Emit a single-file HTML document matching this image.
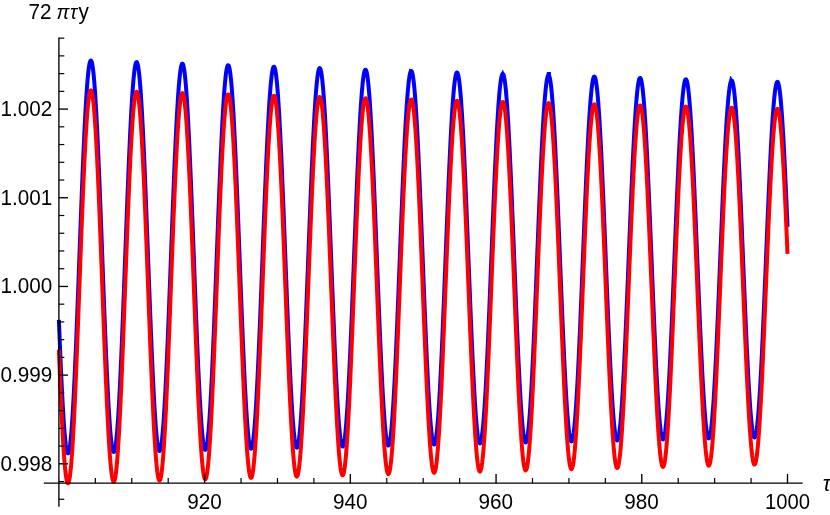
<!DOCTYPE html><html><head><meta charset="utf-8"><title>plot</title><style>html,body{margin:0;padding:0;background:#fff}body{width:830px;height:515px;overflow:hidden}svg{display:block;position:absolute;left:0;top:0;will-change:transform}text{font-family:"Liberation Sans",sans-serif;font-size:21px;fill:#000}</style></head><body>
<svg width="830" height="515" viewBox="0 0 830 515">
<rect width="830" height="515" fill="#fff"/>
<path d="M58.90,319.81 L59.26,329.06 L59.63,338.13 L59.99,346.99 L60.36,355.62 L60.72,364.00 L61.09,372.12 L61.45,379.94 L61.81,387.45 L62.18,394.64 L62.54,401.48 L62.91,407.96 L63.27,414.06 L63.64,419.76 L64.00,425.05 L64.36,429.92 L64.73,434.36 L65.09,438.36 L65.46,441.89 L65.82,444.97 L66.19,447.57 L66.55,449.69 L66.91,451.34 L67.28,452.49 L67.64,453.15 L68.01,453.33 L68.37,453.01 L68.74,452.20 L69.10,450.90 L69.46,449.11 L69.83,446.84 L70.19,444.10 L70.56,440.89 L70.92,437.22 L71.29,433.09 L71.65,428.53 L72.01,423.54 L72.38,418.13 L72.74,412.31 L73.11,406.11 L73.47,399.53 L73.84,392.60 L74.20,385.33 L74.56,377.74 L74.93,369.84 L75.29,361.66 L75.66,353.22 L76.02,344.54 L76.39,335.65 L76.75,326.55 L77.11,317.28 L77.48,307.86 L77.84,298.31 L78.21,288.66 L78.57,278.93 L78.94,269.15 L79.30,259.33 L79.67,249.51 L80.03,239.71 L80.39,229.95 L80.76,220.26 L81.12,210.66 L81.49,201.17 L81.85,191.83 L82.22,182.65 L82.58,173.66 L82.94,164.87 L83.31,156.31 L83.67,148.01 L84.04,139.98 L84.40,132.24 L84.77,124.81 L85.13,117.71 L85.49,110.96 L85.86,104.58 L86.22,98.58 L86.59,92.97 L86.95,87.77 L87.32,83.00 L87.68,78.66 L88.04,74.76 L88.41,71.32 L88.77,68.34 L89.14,65.84 L89.50,63.81 L89.87,62.27 L90.23,61.21 L90.59,60.64 L90.96,60.56 L91.32,60.97 L91.69,61.87 L92.05,63.25 L92.42,65.12 L92.78,67.47 L93.14,70.29 L93.51,73.58 L93.87,77.32 L94.24,81.51 L94.60,86.14 L94.97,91.20 L95.33,96.67 L95.69,102.53 L96.06,108.79 L96.42,115.41 L96.79,122.38 L97.15,129.69 L97.52,137.32 L97.88,145.24 L98.24,153.44 L98.61,161.90 L98.97,170.59 L99.34,179.50 L99.70,188.60 L100.07,197.87 L100.43,207.29 L100.79,216.83 L101.16,226.46 L101.52,236.17 L101.89,245.94 L102.25,255.72 L102.62,265.51 L102.98,275.28 L103.34,285.00 L103.71,294.64 L104.07,304.19 L104.44,313.62 L104.80,322.91 L105.17,332.03 L105.53,340.96 L105.89,349.68 L106.26,358.17 L106.62,366.40 L106.99,374.35 L107.35,382.02 L107.72,389.36 L108.08,396.38 L108.44,403.04 L108.81,409.34 L109.17,415.26 L109.54,420.78 L109.90,425.88 L110.27,430.57 L110.63,434.82 L110.99,438.62 L111.36,441.97 L111.72,444.86 L112.09,447.27 L112.45,449.21 L112.82,450.66 L113.18,451.63 L113.54,452.12 L113.91,452.11 L114.27,451.62 L114.64,450.64 L115.00,449.17 L115.37,447.23 L115.73,444.81 L116.10,441.91 L116.46,438.56 L116.82,434.75 L117.19,430.50 L117.55,425.81 L117.92,420.70 L118.28,415.18 L118.65,409.27 L119.01,402.97 L119.37,396.31 L119.74,389.30 L120.10,381.97 L120.47,374.32 L120.83,366.37 L121.20,358.15 L121.56,349.68 L121.92,340.98 L122.29,332.07 L122.65,322.98 L123.02,313.71 L123.38,304.31 L123.75,294.79 L124.11,285.17 L124.47,275.49 L124.84,265.76 L125.20,256.00 L125.57,246.26 L125.93,236.53 L126.30,226.86 L126.66,217.27 L127.02,207.78 L127.39,198.40 L127.75,189.18 L128.12,180.13 L128.48,171.27 L128.85,162.62 L129.21,154.21 L129.57,146.06 L129.94,138.19 L130.30,130.61 L130.67,123.35 L131.03,116.42 L131.40,109.85 L131.76,103.64 L132.12,97.82 L132.49,92.40 L132.85,87.38 L133.22,82.80 L133.58,78.64 L133.95,74.94 L134.31,71.69 L134.67,68.90 L135.04,66.58 L135.40,64.74 L135.77,63.38 L136.13,62.50 L136.50,62.11 L136.86,62.21 L137.22,62.79 L137.59,63.86 L137.95,65.41 L138.32,67.43 L138.68,69.94 L139.05,72.90 L139.41,76.33 L139.77,80.21 L140.14,84.53 L140.50,89.28 L140.87,94.45 L141.23,100.03 L141.60,106.00 L141.96,112.34 L142.32,119.04 L142.69,126.09 L143.05,133.46 L143.42,141.15 L143.78,149.12 L144.15,157.36 L144.51,165.84 L144.87,174.56 L145.24,183.47 L145.60,192.57 L145.97,201.84 L146.33,211.23 L146.70,220.74 L147.06,230.34 L147.42,240.01 L147.79,249.71 L148.15,259.44 L148.52,269.15 L148.88,278.84 L149.25,288.47 L149.61,298.01 L149.97,307.46 L150.34,316.77 L150.70,325.94 L151.07,334.93 L151.43,343.73 L151.80,352.31 L152.16,360.65 L152.53,368.73 L152.89,376.52 L153.25,384.02 L153.62,391.20 L153.98,398.05 L154.35,404.54 L154.71,410.66 L155.08,416.39 L155.44,421.73 L155.80,426.65 L156.17,431.15 L156.53,435.21 L156.90,438.83 L157.26,441.99 L157.63,444.68 L157.99,446.91 L158.35,448.66 L158.72,449.94 L159.08,450.73 L159.45,451.03 L159.81,450.85 L160.18,450.19 L160.54,449.04 L160.90,447.41 L161.27,445.31 L161.63,442.74 L162.00,439.70 L162.36,436.20 L162.73,432.26 L163.09,427.88 L163.45,423.07 L163.82,417.85 L164.18,412.23 L164.55,406.21 L164.91,399.83 L165.28,393.09 L165.64,386.01 L166.00,378.61 L166.37,370.90 L166.73,362.91 L167.10,354.66 L167.46,346.16 L167.83,337.44 L168.19,328.53 L168.55,319.43 L168.92,310.18 L169.28,300.79 L169.65,291.30 L170.01,281.72 L170.38,272.09 L170.74,262.41 L171.10,252.72 L171.47,243.05 L171.83,233.41 L172.20,223.83 L172.56,214.34 L172.93,204.95 L173.29,195.69 L173.65,186.59 L174.02,177.66 L174.38,168.94 L174.75,160.43 L175.11,152.17 L175.48,144.17 L175.84,136.46 L176.20,129.04 L176.57,121.95 L176.93,115.20 L177.30,108.80 L177.66,102.77 L178.03,97.13 L178.39,91.89 L178.75,87.06 L179.12,82.66 L179.48,78.69 L179.85,75.17 L180.21,72.11 L180.58,69.51 L180.94,67.38 L181.30,65.72 L181.67,64.54 L182.03,63.84 L182.40,63.63 L182.76,63.90 L183.13,64.65 L183.49,65.88 L183.85,67.59 L184.22,69.78 L184.58,72.43 L184.95,75.54 L185.31,79.11 L185.68,83.12 L186.04,87.57 L186.41,92.44 L186.77,97.72 L187.13,103.40 L187.50,109.46 L187.86,115.89 L188.23,122.67 L188.59,129.79 L188.96,137.23 L189.32,144.96 L189.68,152.97 L190.05,161.25 L190.41,169.76 L190.78,178.49 L191.14,187.41 L191.51,196.51 L191.87,205.76 L192.23,215.14 L192.60,224.62 L192.96,234.18 L193.33,243.79 L193.69,253.44 L194.06,263.10 L194.42,272.74 L194.78,282.34 L195.15,291.88 L195.51,301.33 L195.88,310.66 L196.24,319.86 L196.61,328.91 L196.97,337.77 L197.33,346.43 L197.70,354.87 L198.06,363.06 L198.43,370.99 L198.79,378.63 L199.16,385.96 L199.52,392.97 L199.88,399.65 L200.25,405.96 L200.61,411.90 L200.98,417.46 L201.34,422.61 L201.71,427.35 L202.07,431.66 L202.43,435.54 L202.80,438.97 L203.16,441.94 L203.53,444.45 L203.89,446.50 L204.26,448.07 L204.62,449.16 L204.98,449.77 L205.35,449.90 L205.71,449.55 L206.08,448.72 L206.44,447.41 L206.81,445.62 L207.17,443.36 L207.53,440.64 L207.90,437.45 L208.26,433.82 L208.63,429.75 L208.99,425.24 L209.36,420.32 L209.72,414.99 L210.08,409.26 L210.45,403.16 L210.81,396.69 L211.18,389.87 L211.54,382.72 L211.91,375.26 L212.27,367.50 L212.63,359.47 L213.00,351.18 L213.36,342.66 L213.73,333.93 L214.09,325.00 L214.46,315.91 L214.82,306.67 L215.18,297.31 L215.55,287.85 L215.91,278.31 L216.28,268.73 L216.64,259.11 L217.01,249.49 L217.37,239.89 L217.73,230.34 L218.10,220.85 L218.46,211.46 L218.83,202.18 L219.19,193.03 L219.56,184.06 L219.92,175.26 L220.28,166.67 L220.65,158.31 L221.01,150.19 L221.38,142.35 L221.74,134.79 L222.11,127.54 L222.47,120.61 L222.84,114.03 L223.20,107.81 L223.56,101.96 L223.93,96.50 L224.29,91.44 L224.66,86.79 L225.02,82.58 L225.39,78.80 L225.75,75.46 L226.11,72.58 L226.48,70.17 L226.84,68.22 L227.21,66.74 L227.57,65.74 L227.94,65.22 L228.30,65.18 L228.66,65.62 L229.03,66.54 L229.39,67.94 L229.76,69.81 L230.12,72.14 L230.49,74.94 L230.85,78.20 L231.21,81.90 L231.58,86.04 L231.94,90.61 L232.31,95.60 L232.67,100.99 L233.04,106.77 L233.40,112.92 L233.76,119.43 L234.13,126.29 L234.49,133.48 L234.86,140.97 L235.22,148.76 L235.59,156.81 L235.95,165.12 L236.31,173.65 L236.68,182.39 L237.04,191.32 L237.41,200.42 L237.77,209.65 L238.14,219.00 L238.50,228.45 L238.86,237.97 L239.23,247.53 L239.59,257.12 L239.96,266.71 L240.32,276.27 L240.69,285.79 L241.05,295.23 L241.41,304.58 L241.78,313.81 L242.14,322.89 L242.51,331.81 L242.87,340.55 L243.24,349.07 L243.60,357.36 L243.96,365.41 L244.33,373.18 L244.69,380.66 L245.06,387.83 L245.42,394.68 L245.79,401.18 L246.15,407.32 L246.51,413.08 L246.88,418.46 L247.24,423.43 L247.61,427.99 L247.97,432.11 L248.34,435.81 L248.70,439.05 L249.06,441.84 L249.43,444.17 L249.79,446.03 L250.16,447.42 L250.52,448.33 L250.89,448.77 L251.25,448.72 L251.61,448.20 L251.98,447.20 L252.34,445.73 L252.71,443.78 L253.07,441.37 L253.44,438.50 L253.80,435.18 L254.16,431.42 L254.53,427.21 L254.89,422.59 L255.26,417.55 L255.62,412.11 L255.99,406.29 L256.35,400.09 L256.71,393.54 L257.08,386.65 L257.44,379.43 L257.81,371.91 L258.17,364.11 L258.54,356.04 L258.90,347.72 L259.26,339.18 L259.63,330.44 L259.99,321.51 L260.36,312.42 L260.72,303.20 L261.09,293.86 L261.45,284.44 L261.82,274.94 L262.18,265.41 L262.54,255.85 L262.91,246.30 L263.27,236.78 L263.64,227.31 L264.00,217.92 L264.37,208.63 L264.73,199.46 L265.09,190.44 L265.46,181.58 L265.82,172.91 L266.19,164.46 L266.55,156.24 L266.92,148.28 L267.28,140.59 L267.64,133.19 L268.01,126.10 L268.37,119.34 L268.74,112.93 L269.10,106.88 L269.47,101.21 L269.83,95.92 L270.19,91.05 L270.56,86.58 L270.92,82.55 L271.29,78.96 L271.65,75.81 L272.02,73.11 L272.38,70.88 L272.74,69.11 L273.11,67.82 L273.47,66.99 L273.84,66.65 L274.20,66.78 L274.57,67.39 L274.93,68.47 L275.29,70.03 L275.66,72.05 L276.02,74.54 L276.39,77.49 L276.75,80.88 L277.12,84.72 L277.48,88.98 L277.84,93.67 L278.21,98.77 L278.57,104.26 L278.94,110.14 L279.30,116.38 L279.67,122.98 L280.03,129.91 L280.39,137.16 L280.76,144.71 L281.12,152.54 L281.49,160.63 L281.85,168.96 L282.22,177.52 L282.58,186.27 L282.94,195.20 L283.31,204.29 L283.67,213.50 L284.04,222.83 L284.40,232.24 L284.77,241.71 L285.13,251.22 L285.49,260.75 L285.86,270.27 L286.22,279.75 L286.59,289.18 L286.95,298.53 L287.32,307.77 L287.68,316.89 L288.04,325.86 L288.41,334.65 L288.77,343.26 L289.14,351.64 L289.50,359.79 L289.87,367.69 L290.23,375.31 L290.59,382.63 L290.96,389.64 L291.32,396.31 L291.69,402.64 L292.05,408.61 L292.42,414.20 L292.78,419.39 L293.14,424.19 L293.51,428.56 L293.87,432.50 L294.24,436.01 L294.60,439.07 L294.97,441.68 L295.33,443.82 L295.69,445.50 L296.06,446.71 L296.42,447.45 L296.79,447.71 L297.15,447.50 L297.52,446.81 L297.88,445.65 L298.25,444.01 L298.61,441.92 L298.97,439.36 L299.34,436.34 L299.70,432.88 L300.07,428.99 L300.43,424.66 L300.80,419.92 L301.16,414.77 L301.52,409.23 L301.89,403.31 L302.25,397.02 L302.62,390.39 L302.98,383.43 L303.35,376.15 L303.71,368.58 L304.07,360.73 L304.44,352.62 L304.80,344.28 L305.17,335.72 L305.53,326.97 L305.90,318.04 L306.26,308.96 L306.62,299.76 L306.99,290.45 L307.35,281.06 L307.72,271.61 L308.08,262.13 L308.45,252.64 L308.81,243.16 L309.17,233.72 L309.54,224.34 L309.90,215.05 L310.27,205.86 L310.63,196.80 L311.00,187.89 L311.36,179.16 L311.72,170.63 L312.09,162.31 L312.45,154.24 L312.82,146.42 L313.18,138.88 L313.55,131.64 L313.91,124.72 L314.27,118.13 L314.64,111.89 L315.00,106.01 L315.37,100.51 L315.73,95.41 L316.10,90.71 L316.46,86.43 L316.82,82.58 L317.19,79.17 L317.55,76.20 L317.92,73.69 L318.28,71.64 L318.65,70.05 L319.01,68.94 L319.37,68.29 L319.74,68.12 L320.10,68.42 L320.47,69.19 L320.83,70.44 L321.20,72.15 L321.56,74.33 L321.92,76.97 L322.29,80.05 L322.65,83.58 L323.02,87.55 L323.38,91.94 L323.75,96.74 L324.11,101.95 L324.47,107.54 L324.84,113.51 L325.20,119.84 L325.57,126.52 L325.93,133.52 L326.30,140.83 L326.66,148.43 L327.02,156.30 L327.39,164.43 L327.75,172.79 L328.12,181.36 L328.48,190.12 L328.85,199.05 L329.21,208.12 L329.57,217.32 L329.94,226.61 L330.30,235.99 L330.67,245.41 L331.03,254.87 L331.40,264.33 L331.76,273.78 L332.12,283.18 L332.49,292.52 L332.85,301.77 L333.22,310.91 L333.58,319.91 L333.95,328.76 L334.31,337.43 L334.68,345.90 L335.04,354.15 L335.40,362.16 L335.77,369.90 L336.13,377.36 L336.50,384.53 L336.86,391.37 L337.23,397.88 L337.59,404.04 L337.95,409.84 L338.32,415.25 L338.68,420.27 L339.05,424.88 L339.41,429.07 L339.78,432.83 L340.14,436.16 L340.50,439.04 L340.87,441.46 L341.23,443.43 L341.60,444.93 L341.96,445.96 L342.33,446.52 L342.69,446.61 L343.05,446.23 L343.42,445.37 L343.78,444.05 L344.15,442.26 L344.51,440.01 L344.88,437.31 L345.24,434.15 L345.60,430.56 L345.97,426.53 L346.33,422.09 L346.70,417.23 L347.06,411.97 L347.43,406.33 L347.79,400.32 L348.15,393.95 L348.52,387.24 L348.88,380.21 L349.25,372.87 L349.61,365.25 L349.98,357.36 L350.34,349.22 L350.70,340.85 L351.07,332.28 L351.43,323.52 L351.80,314.60 L352.16,305.53 L352.53,296.35 L352.89,287.07 L353.25,277.72 L353.62,268.32 L353.98,258.90 L354.35,249.47 L354.71,240.07 L355.08,230.71 L355.44,221.42 L355.80,212.22 L356.17,203.14 L356.53,194.19 L356.90,185.41 L357.26,176.80 L357.63,168.40 L357.99,160.23 L358.35,152.29 L358.72,144.63 L359.08,137.24 L359.45,130.16 L359.81,123.40 L360.18,116.98 L360.54,110.91 L360.90,105.20 L361.27,99.88 L361.63,94.96 L362.00,90.44 L362.36,86.34 L362.73,82.67 L363.09,79.44 L363.45,76.66 L363.82,74.32 L364.18,72.45 L364.55,71.04 L364.91,70.10 L365.28,69.63 L365.64,69.63 L366.00,70.10 L366.37,71.03 L366.73,72.44 L367.10,74.31 L367.46,76.63 L367.83,79.41 L368.19,82.64 L368.55,86.30 L368.92,90.40 L369.28,94.91 L369.65,99.82 L370.01,105.14 L370.38,110.83 L370.74,116.89 L371.11,123.30 L371.47,130.05 L371.83,137.12 L372.20,144.48 L372.56,152.13 L372.93,160.05 L373.29,168.21 L373.66,176.59 L374.02,185.17 L374.38,193.94 L374.75,202.86 L375.11,211.92 L375.48,221.09 L375.84,230.36 L376.21,239.69 L376.57,249.07 L376.93,258.46 L377.30,267.86 L377.66,277.23 L378.03,286.55 L378.39,295.80 L378.76,304.95 L379.12,313.98 L379.48,322.87 L379.85,331.60 L380.21,340.15 L380.58,348.48 L380.94,356.59 L381.31,364.46 L381.67,372.05 L382.03,379.36 L382.40,386.36 L382.76,393.04 L383.13,399.39 L383.49,405.38 L383.86,411.00 L384.22,416.23 L384.58,421.07 L384.95,425.50 L385.31,429.52 L385.68,433.10 L386.04,436.24 L386.41,438.94 L386.77,441.19 L387.13,442.97 L387.50,444.30 L387.86,445.15 L388.23,445.54 L388.59,445.46 L388.96,444.91 L389.32,443.90 L389.68,442.42 L390.05,440.48 L390.41,438.08 L390.78,435.23 L391.14,431.94 L391.51,428.21 L391.87,424.06 L392.23,419.49 L392.60,414.52 L392.96,409.16 L393.33,403.42 L393.69,397.32 L394.06,390.87 L394.42,384.09 L394.78,377.00 L395.15,369.61 L395.51,361.93 L395.88,354.00 L396.24,345.84 L396.61,337.45 L396.97,328.86 L397.33,320.10 L397.70,311.18 L398.06,302.13 L398.43,292.98 L398.79,283.73 L399.16,274.42 L399.52,265.07 L399.88,255.71 L400.25,246.35 L400.61,237.02 L400.98,227.75 L401.34,218.55 L401.71,209.45 L402.07,200.47 L402.43,191.64 L402.80,182.98 L403.16,174.50 L403.53,166.23 L403.89,158.20 L404.26,150.41 L404.62,142.89 L404.98,135.66 L405.35,128.74 L405.71,122.15 L406.08,115.89 L406.44,109.99 L406.81,104.46 L407.17,99.31 L407.54,94.56 L407.90,90.22 L408.26,86.31 L408.63,82.82 L408.99,79.76 L409.36,77.16 L409.72,75.01 L410.09,73.31 L410.45,72.08 L410.81,71.31 L411.18,71.01 L411.54,71.18 L411.91,71.81 L412.27,72.91 L412.64,74.47 L413.00,76.49 L413.36,78.97 L413.73,81.89 L414.09,85.25 L414.46,89.05 L414.82,93.26 L415.19,97.89 L415.55,102.92 L415.91,108.33 L416.28,114.12 L416.64,120.27 L417.01,126.76 L417.37,133.58 L417.74,140.71 L418.10,148.13 L418.46,155.83 L418.83,163.78 L419.19,171.96 L419.56,180.36 L419.92,188.96 L420.29,197.72 L420.65,206.64 L421.01,215.68 L421.38,224.83 L421.74,234.06 L422.11,243.35 L422.47,252.67 L422.84,262.01 L423.20,271.34 L423.56,280.63 L423.93,289.87 L424.29,299.02 L424.66,308.07 L425.02,317.00 L425.39,325.78 L425.75,334.38 L426.11,342.80 L426.48,351.00 L426.84,358.97 L427.21,366.69 L427.57,374.13 L427.94,381.29 L428.30,388.13 L428.66,394.65 L429.03,400.83 L429.39,406.64 L429.76,412.09 L430.12,417.15 L430.49,421.82 L430.85,426.07 L431.21,429.90 L431.58,433.31 L431.94,436.27 L432.31,438.79 L432.67,440.86 L433.04,442.47 L433.40,443.61 L433.76,444.30 L434.13,444.52 L434.49,444.27 L434.86,443.56 L435.22,442.38 L435.59,440.75 L435.95,438.65 L436.31,436.11 L436.68,433.12 L437.04,429.69 L437.41,425.84 L437.77,421.56 L438.14,416.88 L438.50,411.80 L438.86,406.34 L439.23,400.51 L439.59,394.32 L439.96,387.80 L440.32,380.95 L440.69,373.79 L441.05,366.34 L441.41,358.63 L441.78,350.66 L442.14,342.47 L442.51,334.06 L442.87,325.47 L443.24,316.70 L443.60,307.80 L443.97,298.76 L444.33,289.63 L444.69,280.42 L445.06,271.16 L445.42,261.86 L445.79,252.56 L446.15,243.27 L446.52,234.02 L446.88,224.83 L447.24,215.73 L447.61,206.73 L447.97,197.86 L448.34,189.14 L448.70,180.60 L449.07,172.25 L449.43,164.12 L449.79,156.22 L450.16,148.58 L450.52,141.22 L450.89,134.15 L451.25,127.38 L451.62,120.95 L451.98,114.86 L452.34,109.13 L452.71,103.77 L453.07,98.80 L453.44,94.23 L453.80,90.07 L454.17,86.32 L454.53,83.01 L454.89,80.14 L455.26,77.71 L455.62,75.74 L455.99,74.22 L456.35,73.16 L456.72,72.57 L457.08,72.43 L457.44,72.77 L457.81,73.56 L458.17,74.82 L458.54,76.54 L458.90,78.71 L459.27,81.33 L459.63,84.39 L459.99,87.88 L460.36,91.80 L460.72,96.14 L461.09,100.88 L461.45,106.02 L461.82,111.53 L462.18,117.41 L462.54,123.64 L462.91,130.21 L463.27,137.10 L463.64,144.29 L464.00,151.76 L464.37,159.50 L464.73,167.49 L465.09,175.70 L465.46,184.11 L465.82,192.72 L466.19,201.48 L466.55,210.38 L466.92,219.41 L467.28,228.53 L467.64,237.72 L468.01,246.97 L468.37,256.24 L468.74,265.51 L469.10,274.77 L469.47,283.98 L469.83,293.13 L470.19,302.19 L470.56,311.14 L470.92,319.96 L471.29,328.62 L471.65,337.10 L472.02,345.39 L472.38,353.46 L472.74,361.29 L473.11,368.86 L473.47,376.15 L473.84,383.15 L474.20,389.83 L474.57,396.19 L474.93,402.20 L475.29,407.85 L475.66,413.12 L476.02,418.01 L476.39,422.50 L476.75,426.57 L477.12,430.23 L477.48,433.45 L477.84,436.24 L478.21,438.58 L478.57,440.47 L478.94,441.91 L479.30,442.88 L479.67,443.39 L480.03,443.45 L480.40,443.03 L480.76,442.16 L481.12,440.83 L481.49,439.04 L481.85,436.80 L482.22,434.11 L482.58,430.98 L482.95,427.42 L483.31,423.44 L483.67,419.05 L484.04,414.26 L484.40,409.07 L484.77,403.51 L485.13,397.59 L485.50,391.32 L485.86,384.72 L486.22,377.80 L486.59,370.58 L486.95,363.09 L487.32,355.33 L487.68,347.33 L488.05,339.11 L488.41,330.69 L488.77,322.09 L489.14,313.33 L489.50,304.44 L489.87,295.43 L490.23,286.33 L490.60,277.15 L490.96,267.94 L491.32,258.70 L491.69,249.46 L492.05,240.24 L492.42,231.07 L492.78,221.97 L493.15,212.96 L493.51,204.06 L493.87,195.30 L494.24,186.70 L494.60,178.28 L494.97,170.07 L495.33,162.07 L495.70,154.31 L496.06,146.82 L496.42,139.60 L496.79,132.69 L497.15,126.08 L497.52,119.81 L497.88,113.89 L498.25,108.33 L498.61,103.14 L498.97,98.34 L499.34,93.95 L499.70,89.96 L500.07,86.40 L500.43,83.27 L500.80,80.57 L501.16,78.32 L501.52,76.52 L501.89,75.18 L502.25,74.29 L502.62,73.86 L502.98,73.90 L503.35,74.40 L503.71,75.35 L504.07,76.77 L504.44,78.63 L504.80,80.95 L505.17,83.71 L505.53,86.91 L505.90,90.54 L506.26,94.58 L506.62,99.04 L506.99,103.89 L507.35,109.13 L507.72,114.74 L508.08,120.71 L508.45,127.02 L508.81,133.66 L509.17,140.61 L509.54,147.86 L509.90,155.38 L510.27,163.16 L510.63,171.18 L511.00,179.41 L511.36,187.84 L511.72,196.45 L512.09,205.21 L512.45,214.10 L512.82,223.10 L513.18,232.19 L513.55,241.34 L513.91,250.54 L514.27,259.75 L514.64,268.96 L515.00,278.15 L515.37,287.28 L515.73,296.34 L516.10,305.30 L516.46,314.15 L516.83,322.86 L517.19,331.40 L517.55,339.76 L517.92,347.92 L518.28,355.85 L518.65,363.54 L519.01,370.96 L519.38,378.10 L519.74,384.95 L520.10,391.47 L520.47,397.66 L520.83,403.51 L521.20,408.99 L521.56,414.09 L521.93,418.80 L522.29,423.12 L522.65,427.02 L523.02,430.49 L523.38,433.54 L523.75,436.15 L524.11,438.32 L524.48,440.03 L524.84,441.29 L525.20,442.10 L525.57,442.44 L525.93,442.33 L526.30,441.75 L526.66,440.72 L527.03,439.23 L527.39,437.29 L527.75,434.91 L528.12,432.08 L528.48,428.82 L528.85,425.13 L529.21,421.03 L529.58,416.52 L529.94,411.61 L530.30,406.33 L530.67,400.67 L531.03,394.66 L531.40,388.31 L531.76,381.64 L532.13,374.66 L532.49,367.39 L532.85,359.84 L533.22,352.05 L533.58,344.02 L533.95,335.78 L534.31,327.35 L534.68,318.74 L535.04,309.99 L535.40,301.11 L535.77,292.12 L536.13,283.05 L536.50,273.92 L536.86,264.75 L537.23,255.57 L537.59,246.39 L537.95,237.25 L538.32,228.16 L538.68,219.15 L539.05,210.24 L539.41,201.45 L539.78,192.80 L540.14,184.32 L540.50,176.02 L540.87,167.93 L541.23,160.07 L541.60,152.46 L541.96,145.11 L542.33,138.05 L542.69,131.29 L543.05,124.84 L543.42,118.74 L543.78,112.98 L544.15,107.59 L544.51,102.57 L544.88,97.95 L545.24,93.73 L545.60,89.92 L545.97,86.53 L546.33,83.57 L546.70,81.05 L547.06,78.98 L547.43,77.35 L547.79,76.18 L548.15,75.46 L548.52,75.20 L548.88,75.40 L549.25,76.06 L549.61,77.18 L549.98,78.74 L550.34,80.76 L550.70,83.22 L551.07,86.12 L551.43,89.45 L551.80,93.21 L552.16,97.37 L552.53,101.94 L552.89,106.90 L553.26,112.24 L553.62,117.95 L553.98,124.00 L554.35,130.39 L554.71,137.11 L555.08,144.12 L555.44,151.42 L555.81,158.99 L556.17,166.80 L556.53,174.85 L556.90,183.10 L557.26,191.54 L557.63,200.15 L557.99,208.90 L558.36,217.78 L558.72,226.75 L559.08,235.81 L559.45,244.92 L559.81,254.07 L560.18,263.22 L560.54,272.37 L560.91,281.48 L561.27,290.53 L561.63,299.50 L562.00,308.36 L562.36,317.10 L562.73,325.70 L563.09,334.12 L563.46,342.36 L563.82,350.39 L564.18,358.18 L564.55,365.73 L564.91,373.00 L565.28,379.99 L565.64,386.68 L566.01,393.05 L566.37,399.08 L566.73,404.75 L567.10,410.06 L567.46,415.00 L567.83,419.54 L568.19,423.67 L568.56,427.40 L568.92,430.70 L569.28,433.57 L569.65,436.01 L570.01,438.00 L570.38,439.54 L570.74,440.63 L571.11,441.27 L571.47,441.44 L571.83,441.17 L572.20,440.43 L572.56,439.24 L572.93,437.60 L573.29,435.51 L573.66,432.98 L574.02,430.02 L574.38,426.62 L574.75,422.81 L575.11,418.59 L575.48,413.96 L575.84,408.95 L576.21,403.57 L576.57,397.82 L576.93,391.73 L577.30,385.30 L577.66,378.56 L578.03,371.52 L578.39,364.19 L578.76,356.61 L579.12,348.78 L579.48,340.72 L579.85,332.47 L580.21,324.02 L580.58,315.42 L580.94,306.67 L581.31,297.81 L581.67,288.85 L582.03,279.81 L582.40,270.72 L582.76,261.61 L583.13,252.48 L583.49,243.38 L583.86,234.31 L584.22,225.30 L584.58,216.38 L584.95,207.57 L585.31,198.88 L585.68,190.35 L586.04,181.99 L586.41,173.82 L586.77,165.86 L587.13,158.14 L587.50,150.66 L587.86,143.46 L588.23,136.55 L588.59,129.95 L588.96,123.66 L589.32,117.72 L589.69,112.13 L590.05,106.90 L590.41,102.06 L590.78,97.61 L591.14,93.56 L591.51,89.92 L591.87,86.71 L592.24,83.93 L592.60,81.58 L592.96,79.68 L593.33,78.23 L593.69,77.23 L594.06,76.68 L594.42,76.59 L594.79,76.95 L595.15,77.77 L595.51,79.04 L595.88,80.76 L596.24,82.92 L596.61,85.52 L596.97,88.56 L597.34,92.02 L597.70,95.90 L598.06,100.18 L598.43,104.86 L598.79,109.93 L599.16,115.37 L599.52,121.16 L599.89,127.30 L600.25,133.77 L600.61,140.54 L600.98,147.62 L601.34,154.97 L601.71,162.58 L602.07,170.43 L602.44,178.50 L602.80,186.77 L603.16,195.21 L603.53,203.82 L603.89,212.56 L604.26,221.42 L604.62,230.37 L604.99,239.39 L605.35,248.46 L605.71,257.55 L606.08,266.65 L606.44,275.72 L606.81,284.76 L607.17,293.72 L607.54,302.60 L607.90,311.37 L608.26,320.00 L608.63,328.48 L608.99,336.79 L609.36,344.90 L609.72,352.79 L610.09,360.45 L610.45,367.85 L610.81,374.98 L611.18,381.82 L611.54,388.35 L611.91,394.56 L612.27,400.42 L612.64,405.93 L613.00,411.08 L613.36,415.84 L613.73,420.21 L614.09,424.17 L614.46,427.72 L614.82,430.85 L615.19,433.55 L615.55,435.81 L615.91,437.63 L616.28,439.00 L616.64,439.92 L617.01,440.39 L617.37,440.40 L617.74,439.96 L618.10,439.07 L618.46,437.72 L618.83,435.93 L619.19,433.70 L619.56,431.03 L619.92,427.93 L620.29,424.41 L620.65,420.47 L621.01,416.13 L621.38,411.40 L621.74,406.28 L622.11,400.80 L622.47,394.96 L622.84,388.79 L623.20,382.29 L623.56,375.48 L623.93,368.38 L624.29,361.01 L624.66,353.38 L625.02,345.52 L625.39,337.44 L625.75,329.17 L626.12,320.72 L626.48,312.12 L626.84,303.38 L627.21,294.54 L627.57,285.61 L627.94,276.61 L628.30,267.56 L628.67,258.50 L629.03,249.44 L629.39,240.40 L629.76,231.41 L630.12,222.49 L630.49,213.67 L630.85,204.95 L631.22,196.37 L631.58,187.95 L631.94,179.71 L632.31,171.67 L632.67,163.84 L633.04,156.26 L633.40,148.93 L633.77,141.87 L634.13,135.11 L634.49,128.66 L634.86,122.54 L635.22,116.76 L635.59,111.33 L635.95,106.28 L636.32,101.60 L636.68,97.32 L637.04,93.45 L637.41,89.99 L637.77,86.95 L638.14,84.34 L638.50,82.17 L638.87,80.44 L639.23,79.15 L639.59,78.32 L639.96,77.94 L640.32,78.01 L640.69,78.53 L641.05,79.51 L641.42,80.93 L641.78,82.80 L642.14,85.11 L642.51,87.85 L642.87,91.02 L643.24,94.61 L643.60,98.61 L643.97,103.01 L644.33,107.80 L644.69,112.96 L645.06,118.50 L645.42,124.38 L645.79,130.60 L646.15,137.14 L646.52,143.98 L646.88,151.11 L647.24,158.51 L647.61,166.15 L647.97,174.03 L648.34,182.13 L648.70,190.41 L649.07,198.86 L649.43,207.46 L649.79,216.19 L650.16,225.03 L650.52,233.95 L650.89,242.93 L651.25,251.96 L651.62,260.99 L651.98,270.03 L652.34,279.03 L652.71,287.98 L653.07,296.86 L653.44,305.65 L653.80,314.31 L654.17,322.84 L654.53,331.21 L654.89,339.39 L655.26,347.37 L655.62,355.13 L655.99,362.65 L656.35,369.91 L656.72,376.90 L657.08,383.58 L657.44,389.96 L657.81,396.00 L658.17,401.71 L658.54,407.05 L658.90,412.03 L659.27,416.62 L659.63,420.82 L659.99,424.61 L660.36,427.99 L660.72,430.94 L661.09,433.47 L661.45,435.56 L661.82,437.20 L662.18,438.41 L662.55,439.16 L662.91,439.46 L663.27,439.31 L663.64,438.71 L664.00,437.66 L664.37,436.17 L664.73,434.23 L665.10,431.85 L665.46,429.04 L665.82,425.81 L666.19,422.16 L666.55,418.11 L666.92,413.65 L667.28,408.81 L667.65,403.60 L668.01,398.02 L668.37,392.10 L668.74,385.84 L669.10,379.27 L669.47,372.40 L669.83,365.25 L670.20,357.83 L670.56,350.17 L670.92,342.28 L671.29,334.18 L671.65,325.89 L672.02,317.44 L672.38,308.84 L672.75,300.12 L673.11,291.30 L673.47,282.40 L673.84,273.44 L674.20,264.44 L674.57,255.44 L674.93,246.44 L675.30,237.47 L675.66,228.56 L676.02,219.73 L676.39,211.00 L676.75,202.39 L677.12,193.92 L677.48,185.61 L677.85,177.49 L678.21,169.57 L678.57,161.88 L678.94,154.43 L679.30,147.25 L679.67,140.34 L680.03,133.73 L680.40,127.44 L680.76,121.48 L681.12,115.86 L681.49,110.60 L681.85,105.71 L682.22,101.20 L682.58,97.09 L682.95,93.39 L683.31,90.10 L683.67,87.24 L684.04,84.80 L684.40,82.80 L684.77,81.24 L685.13,80.12 L685.50,79.46 L685.86,79.24 L686.22,79.47 L686.59,80.15 L686.95,81.28 L687.32,82.86 L687.68,84.87 L688.05,87.32 L688.41,90.20 L688.77,93.50 L689.14,97.21 L689.50,101.33 L689.87,105.85 L690.23,110.74 L690.60,116.01 L690.96,121.63 L691.32,127.60 L691.69,133.89 L692.05,140.50 L692.42,147.40 L692.78,154.59 L693.15,162.03 L693.51,169.71 L693.87,177.62 L694.24,185.73 L694.60,194.03 L694.97,202.48 L695.33,211.08 L695.70,219.79 L696.06,228.61 L696.42,237.49 L696.79,246.44 L697.15,255.41 L697.52,264.39 L697.88,273.36 L698.25,282.29 L698.61,291.16 L698.98,299.95 L699.34,308.64 L699.70,317.20 L700.07,325.62 L700.43,333.87 L700.80,341.93 L701.16,349.79 L701.53,357.42 L701.89,364.80 L702.25,371.92 L702.62,378.75 L702.98,385.28 L703.35,391.50 L703.71,397.39 L704.08,402.93 L704.44,408.11 L704.80,412.92 L705.17,417.34 L705.53,421.37 L705.90,424.99 L706.26,428.20 L706.63,430.98 L706.99,433.33 L707.35,435.25 L707.72,436.73 L708.08,437.76 L708.45,438.35 L708.81,438.49 L709.18,438.18 L709.54,437.42 L709.90,436.22 L710.27,434.57 L710.63,432.49 L711.00,429.97 L711.36,427.03 L711.73,423.67 L712.09,419.89 L712.45,415.72 L712.82,411.15 L713.18,406.21 L713.55,400.90 L713.91,395.23 L714.28,389.23 L714.64,382.90 L715.00,376.26 L715.37,369.33 L715.73,362.12 L716.10,354.66 L716.46,346.96 L716.83,339.05 L717.19,330.93 L717.55,322.63 L717.92,314.18 L718.28,305.59 L718.65,296.89 L719.01,288.09 L719.38,279.22 L719.74,270.30 L720.10,261.36 L720.47,252.41 L720.83,243.48 L721.20,234.59 L721.56,225.76 L721.93,217.02 L722.29,208.38 L722.65,199.87 L723.02,191.51 L723.38,183.32 L723.75,175.32 L724.11,167.53 L724.48,159.98 L724.84,152.67 L725.20,145.62 L725.57,138.87 L725.93,132.41 L726.30,126.27 L726.66,120.47 L727.03,115.01 L727.39,109.92 L727.75,105.20 L728.12,100.86 L728.48,96.92 L728.85,93.39 L729.21,90.27 L729.58,87.58 L729.94,85.31 L730.30,83.48 L730.67,82.09 L731.03,81.14 L731.40,80.64 L731.76,80.58 L732.13,80.98 L732.49,81.81 L732.85,83.09 L733.22,84.82 L733.58,86.97 L733.95,89.56 L734.31,92.57 L734.68,96.00 L735.04,99.84 L735.41,104.07 L735.77,108.70 L736.13,113.70 L736.50,119.06 L736.86,124.77 L737.23,130.82 L737.59,137.19 L737.96,143.86 L738.32,150.82 L738.68,158.05 L739.05,165.54 L739.41,173.26 L739.78,181.19 L740.14,189.32 L740.51,197.62 L740.87,206.07 L741.23,214.66 L741.60,223.36 L741.96,232.15 L742.33,241.00 L742.69,249.90 L743.06,258.82 L743.42,267.74 L743.78,276.64 L744.15,285.50 L744.51,294.29 L744.88,302.99 L745.24,311.58 L745.61,320.04 L745.97,328.35 L746.33,336.48 L746.70,344.42 L747.06,352.15 L747.43,359.64 L747.79,366.88 L748.16,373.85 L748.52,380.54 L748.88,386.92 L749.25,392.98 L749.61,398.71 L749.98,404.09 L750.34,409.11 L750.71,413.75 L751.07,418.00 L751.43,421.86 L751.80,425.31 L752.16,428.35 L752.53,430.96 L752.89,433.14 L753.26,434.89 L753.62,436.20 L753.98,437.07 L754.35,437.49 L754.71,437.47 L755.08,437.00 L755.44,436.09 L755.81,434.73 L756.17,432.94 L756.53,430.72 L756.90,428.06 L757.26,424.99 L757.63,421.50 L757.99,417.60 L758.36,413.32 L758.72,408.64 L759.08,403.59 L759.45,398.19 L759.81,392.44 L760.18,386.35 L760.54,379.95 L760.91,373.25 L761.27,366.26 L761.63,359.01 L762.00,351.50 L762.36,343.77 L762.73,335.83 L763.09,327.70 L763.46,319.40 L763.82,310.95 L764.18,302.37 L764.55,293.68 L764.91,284.91 L765.28,276.08 L765.64,267.21 L766.01,258.31 L766.37,249.42 L766.73,240.56 L767.10,231.75 L767.46,223.00 L767.83,214.35 L768.19,205.81 L768.56,197.41 L768.92,189.16 L769.28,181.08 L769.65,173.21 L770.01,165.55 L770.38,158.13 L770.74,150.96 L771.11,144.06 L771.47,137.45 L771.84,131.15 L772.20,125.17 L772.56,119.52 L772.93,114.23 L773.29,109.30 L773.66,104.74 L774.02,100.57 L774.39,96.80 L774.75,93.44 L775.11,90.49 L775.48,87.97 L775.84,85.87 L776.21,84.21 L776.57,82.98 L776.94,82.20 L777.30,81.86 L777.66,81.97 L778.03,82.52 L778.39,83.51 L778.76,84.94 L779.12,86.81 L779.49,89.10 L779.85,91.83 L780.21,94.97 L780.58,98.53 L780.94,102.48 L781.31,106.83 L781.67,111.56 L782.04,116.66 L782.40,122.12 L782.76,127.91 L783.13,134.04 L783.49,140.48 L783.86,147.22 L784.22,154.23 L784.59,161.51 L784.95,169.04 L785.31,176.78 L785.68,184.74 L786.04,192.88 L786.41,201.19 L786.77,209.64 L787.14,218.21 L787.50,226.89" fill="none" stroke="#0000ff" stroke-width="4" stroke-linejoin="round"/>
<path d="M408.8,72.5 L409.2,68.7 L410.0,68.8 L413.2,71.2 L413,73.5Z M501,74 L502.35,69.9 L503.1,69.9 L504.4,74Z M546.8,75.5 L546.8,72 L550.9,72 L550.9,75.5Z M729.3,80 L730.2,76.0 L730.9,76.0 L731.9,78.6 L733.5,80Z" fill="#0000ff"/>
<path d="M58.90,349.77 L59.26,359.01 L59.63,368.08 L59.99,376.93 L60.36,385.57 L60.72,393.95 L61.09,402.06 L61.45,409.88 L61.81,417.40 L62.18,424.58 L62.54,431.42 L62.91,437.89 L63.27,443.99 L63.64,449.69 L64.00,454.98 L64.36,459.85 L64.73,464.29 L65.09,468.28 L65.46,471.82 L65.82,474.89 L66.19,477.49 L66.55,479.61 L66.91,481.25 L67.28,482.41 L67.64,483.07 L68.01,483.24 L68.37,482.92 L68.74,482.11 L69.10,480.80 L69.46,479.02 L69.83,476.75 L70.19,474.00 L70.56,470.79 L70.92,467.12 L71.29,462.99 L71.65,458.43 L72.01,453.43 L72.38,448.02 L72.74,442.20 L73.11,436.00 L73.47,429.42 L73.84,422.49 L74.20,415.21 L74.56,407.62 L74.93,399.72 L75.29,391.54 L75.66,383.10 L76.02,374.42 L76.39,365.52 L76.75,356.42 L77.11,347.15 L77.48,337.73 L77.84,328.18 L78.21,318.53 L78.57,308.80 L78.94,299.01 L79.30,289.19 L79.67,279.37 L80.03,269.57 L80.39,259.80 L80.76,250.11 L81.12,240.51 L81.49,231.03 L81.85,221.68 L82.22,212.50 L82.58,203.50 L82.94,194.71 L83.31,186.16 L83.67,177.85 L84.04,169.82 L84.40,162.08 L84.77,154.65 L85.13,147.55 L85.49,140.80 L85.86,134.41 L86.22,128.41 L86.59,122.80 L86.95,117.60 L87.32,112.82 L87.68,108.48 L88.04,104.58 L88.41,101.14 L88.77,98.16 L89.14,95.66 L89.50,93.63 L89.87,92.08 L90.23,91.02 L90.59,90.45 L90.96,90.37 L91.32,90.77 L91.69,91.67 L92.05,93.06 L92.42,94.92 L92.78,97.27 L93.14,100.09 L93.51,103.38 L93.87,107.12 L94.24,111.31 L94.60,115.94 L94.97,120.99 L95.33,126.46 L95.69,132.32 L96.06,138.57 L96.42,145.19 L96.79,152.17 L97.15,159.47 L97.52,167.10 L97.88,175.02 L98.24,183.22 L98.61,191.67 L98.97,200.37 L99.34,209.27 L99.70,218.37 L100.07,227.64 L100.43,237.05 L100.79,246.59 L101.16,256.23 L101.52,265.94 L101.89,275.70 L102.25,285.48 L102.62,295.27 L102.98,305.03 L103.34,314.75 L103.71,324.39 L104.07,333.94 L104.44,343.37 L104.80,352.66 L105.17,361.77 L105.53,370.70 L105.89,379.42 L106.26,387.91 L106.62,396.14 L106.99,404.09 L107.35,411.75 L107.72,419.10 L108.08,426.11 L108.44,432.77 L108.81,439.07 L109.17,444.98 L109.54,450.50 L109.90,455.61 L110.27,460.29 L110.63,464.54 L110.99,468.34 L111.36,471.69 L111.72,474.57 L112.09,476.98 L112.45,478.92 L112.82,480.37 L113.18,481.34 L113.54,481.82 L113.91,481.82 L114.27,481.32 L114.64,480.34 L115.00,478.87 L115.37,476.93 L115.73,474.50 L116.10,471.61 L116.46,468.25 L116.82,464.44 L117.19,460.19 L117.55,455.50 L117.92,450.39 L118.28,444.87 L118.65,438.95 L119.01,432.65 L119.37,425.99 L119.74,418.98 L120.10,411.64 L120.47,403.99 L120.83,396.05 L121.20,387.83 L121.56,379.36 L121.92,370.65 L122.29,361.74 L122.65,352.64 L123.02,343.38 L123.38,333.97 L123.75,324.45 L124.11,314.83 L124.47,305.15 L124.84,295.41 L125.20,285.66 L125.57,275.91 L125.93,266.18 L126.30,256.51 L126.66,246.92 L127.02,237.42 L127.39,228.05 L127.75,218.82 L128.12,209.77 L128.48,200.91 L128.85,192.26 L129.21,183.85 L129.57,175.69 L129.94,167.82 L130.30,160.24 L130.67,152.98 L131.03,146.05 L131.40,139.48 L131.76,133.27 L132.12,127.44 L132.49,122.02 L132.85,117.01 L133.22,112.42 L133.58,108.26 L133.95,104.55 L134.31,101.30 L134.67,98.51 L135.04,96.19 L135.40,94.35 L135.77,92.99 L136.13,92.11 L136.50,91.71 L136.86,91.81 L137.22,92.39 L137.59,93.45 L137.95,95.00 L138.32,97.03 L138.68,99.53 L139.05,102.50 L139.41,105.92 L139.77,109.80 L140.14,114.12 L140.50,118.87 L140.87,124.04 L141.23,129.61 L141.60,135.58 L141.96,141.92 L142.32,148.62 L142.69,155.67 L143.05,163.04 L143.42,170.72 L143.78,178.69 L144.15,186.93 L144.51,195.41 L144.87,204.12 L145.24,213.04 L145.60,222.14 L145.97,231.40 L146.33,240.79 L146.70,250.30 L147.06,259.90 L147.42,269.56 L147.79,279.27 L148.15,288.99 L148.52,298.70 L148.88,308.39 L149.25,318.01 L149.61,327.56 L149.97,337.00 L150.34,346.32 L150.70,355.48 L151.07,364.47 L151.43,373.27 L151.80,381.84 L152.16,390.18 L152.53,398.26 L152.89,406.06 L153.25,413.55 L153.62,420.73 L153.98,427.57 L154.35,434.06 L154.71,440.18 L155.08,445.91 L155.44,451.25 L155.80,456.17 L156.17,460.66 L156.53,464.72 L156.90,468.34 L157.26,471.50 L157.63,474.19 L157.99,476.42 L158.35,478.17 L158.72,479.44 L159.08,480.23 L159.45,480.54 L159.81,480.35 L160.18,479.69 L160.54,478.54 L160.90,476.91 L161.27,474.81 L161.63,472.23 L162.00,469.19 L162.36,465.69 L162.73,461.75 L163.09,457.37 L163.45,452.56 L163.82,447.33 L164.18,441.71 L164.55,435.69 L164.91,429.31 L165.28,422.57 L165.64,415.48 L166.00,408.08 L166.37,400.37 L166.73,392.38 L167.10,384.13 L167.46,375.63 L167.83,366.91 L168.19,357.99 L168.55,348.89 L168.92,339.64 L169.28,330.25 L169.65,320.76 L170.01,311.18 L170.38,301.54 L170.74,291.86 L171.10,282.17 L171.47,272.50 L171.83,262.86 L172.20,253.28 L172.56,243.78 L172.93,234.39 L173.29,225.13 L173.65,216.03 L174.02,207.10 L174.38,198.37 L174.75,189.87 L175.11,181.60 L175.48,173.60 L175.84,165.89 L176.20,158.47 L176.57,151.38 L176.93,144.62 L177.30,138.22 L177.66,132.19 L178.03,126.55 L178.39,121.30 L178.75,116.48 L179.12,112.07 L179.48,108.11 L179.85,104.58 L180.21,101.52 L180.58,98.92 L180.94,96.78 L181.30,95.12 L181.67,93.94 L182.03,93.24 L182.40,93.03 L182.76,93.29 L183.13,94.04 L183.49,95.28 L183.85,96.98 L184.22,99.17 L184.58,101.82 L184.95,104.93 L185.31,108.50 L185.68,112.51 L186.04,116.95 L186.41,121.82 L186.77,127.10 L187.13,132.78 L187.50,138.84 L187.86,145.26 L188.23,152.05 L188.59,159.16 L188.96,166.60 L189.32,174.33 L189.68,182.34 L190.05,190.61 L190.41,199.12 L190.78,207.85 L191.14,216.78 L191.51,225.87 L191.87,235.12 L192.23,244.49 L192.60,253.97 L192.96,263.53 L193.33,273.15 L193.69,282.79 L194.06,292.45 L194.42,302.09 L194.78,311.69 L195.15,321.22 L195.51,330.67 L195.88,340.00 L196.24,349.20 L196.61,358.25 L196.97,367.11 L197.33,375.77 L197.70,384.20 L198.06,392.39 L198.43,400.32 L198.79,407.96 L199.16,415.29 L199.52,422.30 L199.88,428.97 L200.25,435.28 L200.61,441.22 L200.98,446.78 L201.34,451.93 L201.71,456.67 L202.07,460.98 L202.43,464.85 L202.80,468.28 L203.16,471.25 L203.53,473.76 L203.89,475.80 L204.26,477.37 L204.62,478.46 L204.98,479.07 L205.35,479.20 L205.71,478.85 L206.08,478.01 L206.44,476.70 L206.81,474.91 L207.17,472.65 L207.53,469.93 L207.90,466.74 L208.26,463.11 L208.63,459.03 L208.99,454.53 L209.36,449.60 L209.72,444.27 L210.08,438.54 L210.45,432.43 L210.81,425.96 L211.18,419.14 L211.54,411.99 L211.91,404.53 L212.27,396.77 L212.63,388.74 L213.00,380.45 L213.36,371.93 L213.73,363.19 L214.09,354.27 L214.46,345.17 L214.82,335.93 L215.18,326.57 L215.55,317.11 L215.91,307.57 L216.28,297.98 L216.64,288.36 L217.01,278.74 L217.37,269.14 L217.73,259.58 L218.10,250.09 L218.46,240.70 L218.83,231.42 L219.19,222.27 L219.56,213.29 L219.92,204.50 L220.28,195.91 L220.65,187.54 L221.01,179.43 L221.38,171.58 L221.74,164.02 L222.11,156.77 L222.47,149.84 L222.84,143.26 L223.20,137.03 L223.56,131.18 L223.93,125.71 L224.29,120.65 L224.66,116.01 L225.02,111.79 L225.39,108.01 L225.75,104.67 L226.11,101.79 L226.48,99.37 L226.84,97.42 L227.21,95.95 L227.57,94.95 L227.94,94.42 L228.30,94.38 L228.66,94.82 L229.03,95.74 L229.39,97.13 L229.76,99.00 L230.12,101.34 L230.49,104.14 L230.85,107.39 L231.21,111.09 L231.58,115.23 L231.94,119.80 L232.31,124.78 L232.67,130.17 L233.04,135.95 L233.40,142.10 L233.76,148.61 L234.13,155.47 L234.49,162.65 L234.86,170.14 L235.22,177.93 L235.59,185.98 L235.95,194.28 L236.31,202.82 L236.68,211.56 L237.04,220.48 L237.41,229.58 L237.77,238.81 L238.14,248.16 L238.50,257.61 L238.86,267.12 L239.23,276.69 L239.59,286.27 L239.96,295.86 L240.32,305.42 L240.69,314.94 L241.05,324.38 L241.41,333.72 L241.78,342.95 L242.14,352.03 L242.51,360.95 L242.87,369.68 L243.24,378.21 L243.60,386.50 L243.96,394.54 L244.33,402.31 L244.69,409.79 L245.06,416.96 L245.42,423.80 L245.79,430.30 L246.15,436.44 L246.51,442.21 L246.88,447.58 L247.24,452.55 L247.61,457.10 L247.97,461.23 L248.34,464.92 L248.70,468.16 L249.06,470.95 L249.43,473.28 L249.79,475.13 L250.16,476.52 L250.52,477.43 L250.89,477.87 L251.25,477.82 L251.61,477.30 L251.98,476.30 L252.34,474.82 L252.71,472.88 L253.07,470.47 L253.44,467.60 L253.80,464.27 L254.16,460.50 L254.53,456.30 L254.89,451.67 L255.26,446.63 L255.62,441.19 L255.99,435.37 L256.35,429.17 L256.71,422.62 L257.08,415.72 L257.44,408.51 L257.81,400.99 L258.17,393.18 L258.54,385.11 L258.90,376.79 L259.26,368.25 L259.63,359.50 L259.99,350.57 L260.36,341.48 L260.72,332.26 L261.09,322.92 L261.45,313.49 L261.82,304.00 L262.18,294.46 L262.54,284.91 L262.91,275.35 L263.27,265.83 L263.64,256.36 L264.00,246.97 L264.37,237.67 L264.73,228.50 L265.09,219.48 L265.46,210.62 L265.82,201.95 L266.19,193.50 L266.55,185.28 L266.92,177.31 L267.28,169.62 L267.64,162.22 L268.01,155.13 L268.37,148.37 L268.74,141.95 L269.10,135.90 L269.47,130.23 L269.83,124.94 L270.19,120.06 L270.56,115.60 L270.92,111.57 L271.29,107.97 L271.65,104.82 L272.02,102.12 L272.38,99.89 L272.74,98.12 L273.11,96.82 L273.47,96.00 L273.84,95.65 L274.20,95.78 L274.57,96.39 L274.93,97.47 L275.29,99.03 L275.66,101.05 L276.02,103.54 L276.39,106.48 L276.75,109.87 L277.12,113.71 L277.48,117.97 L277.84,122.66 L278.21,127.75 L278.57,133.25 L278.94,139.12 L279.30,145.36 L279.67,151.96 L280.03,158.89 L280.39,166.13 L280.76,173.68 L281.12,181.51 L281.49,189.60 L281.85,197.93 L282.22,206.49 L282.58,215.24 L282.94,224.16 L283.31,233.25 L283.67,242.46 L284.04,251.79 L284.40,261.20 L284.77,270.67 L285.13,280.18 L285.49,289.70 L285.86,299.22 L286.22,308.70 L286.59,318.13 L286.95,327.48 L287.32,336.72 L287.68,345.83 L288.04,354.80 L288.41,363.60 L288.77,372.20 L289.14,380.58 L289.50,388.73 L289.87,396.62 L290.23,404.24 L290.59,411.56 L290.96,418.57 L291.32,425.24 L291.69,431.57 L292.05,437.54 L292.42,443.12 L292.78,448.32 L293.14,453.11 L293.51,457.48 L293.87,461.42 L294.24,464.93 L294.60,467.99 L294.97,470.59 L295.33,472.74 L295.69,474.41 L296.06,475.62 L296.42,476.36 L296.79,476.62 L297.15,476.40 L297.52,475.71 L297.88,474.55 L298.25,472.91 L298.61,470.81 L298.97,468.25 L299.34,465.24 L299.70,461.78 L300.07,457.88 L300.43,453.55 L300.80,448.81 L301.16,443.65 L301.52,438.11 L301.89,432.19 L302.25,425.90 L302.62,419.27 L302.98,412.31 L303.35,405.03 L303.71,397.45 L304.07,389.60 L304.44,381.49 L304.80,373.15 L305.17,364.59 L305.53,355.83 L305.90,346.91 L306.26,337.83 L306.62,328.62 L306.99,319.31 L307.35,309.92 L307.72,300.47 L308.08,290.99 L308.45,281.50 L308.81,272.02 L309.17,262.57 L309.54,253.19 L309.90,243.89 L310.27,234.70 L310.63,225.64 L311.00,216.74 L311.36,208.01 L311.72,199.47 L312.09,191.15 L312.45,183.08 L312.82,175.26 L313.18,167.72 L313.55,160.48 L313.91,153.55 L314.27,146.96 L314.64,140.72 L315.00,134.84 L315.37,129.34 L315.73,124.24 L316.10,119.54 L316.46,115.26 L316.82,111.40 L317.19,107.99 L317.55,105.02 L317.92,102.51 L318.28,100.45 L318.65,98.87 L319.01,97.75 L319.37,97.10 L319.74,96.93 L320.10,97.23 L320.47,98.00 L320.83,99.24 L321.20,100.95 L321.56,103.13 L321.92,105.76 L322.29,108.85 L322.65,112.38 L323.02,116.34 L323.38,120.73 L323.75,125.53 L324.11,130.74 L324.47,136.33 L324.84,142.30 L325.20,148.63 L325.57,155.30 L325.93,162.30 L326.30,169.61 L326.66,177.21 L327.02,185.08 L327.39,193.20 L327.75,201.56 L328.12,210.13 L328.48,218.89 L328.85,227.82 L329.21,236.89 L329.57,246.08 L329.94,255.38 L330.30,264.75 L330.67,274.17 L331.03,283.63 L331.40,293.09 L331.76,302.53 L332.12,311.93 L332.49,321.27 L332.85,330.52 L333.22,339.66 L333.58,348.66 L333.95,357.51 L334.31,366.18 L334.68,374.65 L335.04,382.89 L335.40,390.90 L335.77,398.64 L336.13,406.10 L336.50,413.27 L336.86,420.11 L337.23,426.62 L337.59,432.78 L337.95,438.57 L338.32,443.98 L338.68,448.99 L339.05,453.60 L339.41,457.79 L339.78,461.56 L340.14,464.88 L340.50,467.76 L340.87,470.18 L341.23,472.14 L341.60,473.64 L341.96,474.67 L342.33,475.23 L342.69,475.32 L343.05,474.94 L343.42,474.08 L343.78,472.76 L344.15,470.97 L344.51,468.72 L344.88,466.01 L345.24,462.86 L345.60,459.26 L345.97,455.23 L346.33,450.78 L346.70,445.92 L347.06,440.66 L347.43,435.02 L347.79,429.01 L348.15,422.64 L348.52,415.93 L348.88,408.90 L349.25,401.56 L349.61,393.93 L349.98,386.04 L350.34,377.90 L350.70,369.53 L351.07,360.96 L351.43,352.19 L351.80,343.27 L352.16,334.21 L352.53,325.02 L352.89,315.74 L353.25,306.39 L353.62,296.99 L353.98,287.56 L354.35,278.14 L354.71,268.73 L355.08,259.37 L355.44,250.08 L355.80,240.88 L356.17,231.79 L356.53,222.85 L356.90,214.06 L357.26,205.45 L357.63,197.05 L357.99,188.87 L358.35,180.94 L358.72,173.27 L359.08,165.89 L359.45,158.81 L359.81,152.04 L360.18,145.62 L360.54,139.54 L360.90,133.84 L361.27,128.52 L361.63,123.59 L362.00,119.07 L362.36,114.97 L362.73,111.30 L363.09,108.07 L363.45,105.28 L363.82,102.95 L364.18,101.07 L364.55,99.66 L364.91,98.72 L365.28,98.25 L365.64,98.24 L366.00,98.71 L366.37,99.65 L366.73,101.05 L367.10,102.92 L367.46,105.24 L367.83,108.02 L368.19,111.25 L368.55,114.91 L368.92,119.00 L369.28,123.51 L369.65,128.42 L370.01,133.73 L370.38,139.43 L370.74,145.48 L371.11,151.89 L371.47,158.64 L371.83,165.71 L372.20,173.07 L372.56,180.72 L372.93,188.63 L373.29,196.79 L373.66,205.17 L374.02,213.75 L374.38,222.51 L374.75,231.44 L375.11,240.49 L375.48,249.67 L375.84,258.93 L376.21,268.26 L376.57,277.64 L376.93,287.03 L377.30,296.43 L377.66,305.80 L378.03,315.11 L378.39,324.36 L378.76,333.51 L379.12,342.54 L379.48,351.43 L379.85,360.16 L380.21,368.70 L380.58,377.04 L380.94,385.15 L381.31,393.01 L381.67,400.60 L382.03,407.91 L382.40,414.91 L382.76,421.59 L383.13,427.93 L383.49,433.92 L383.86,439.54 L384.22,444.77 L384.58,449.61 L384.95,454.04 L385.31,458.05 L385.68,461.63 L386.04,464.77 L386.41,467.47 L386.77,469.71 L387.13,471.50 L387.50,472.82 L387.86,473.68 L388.23,474.06 L388.59,473.98 L388.96,473.43 L389.32,472.42 L389.68,470.93 L390.05,468.99 L390.41,466.59 L390.78,463.74 L391.14,460.45 L391.51,456.72 L391.87,452.57 L392.23,448.00 L392.60,443.03 L392.96,437.67 L393.33,431.93 L393.69,425.82 L394.06,419.37 L394.42,412.59 L394.78,405.49 L395.15,398.10 L395.51,390.43 L395.88,382.49 L396.24,374.32 L396.61,365.93 L396.97,357.35 L397.33,348.58 L397.70,339.66 L398.06,330.61 L398.43,321.45 L398.79,312.21 L399.16,302.90 L399.52,293.55 L399.88,284.18 L400.25,274.82 L400.61,265.49 L400.98,256.22 L401.34,247.02 L401.71,237.92 L402.07,228.94 L402.43,220.10 L402.80,211.44 L403.16,202.96 L403.53,194.69 L403.89,186.65 L404.26,178.86 L404.62,171.35 L404.98,164.12 L405.35,157.19 L405.71,150.60 L406.08,144.34 L406.44,138.43 L406.81,132.90 L407.17,127.76 L407.54,123.01 L407.90,118.67 L408.26,114.74 L408.63,111.25 L408.99,108.20 L409.36,105.59 L409.72,103.44 L410.09,101.74 L410.45,100.51 L410.81,99.74 L411.18,99.44 L411.54,99.60 L411.91,100.23 L412.27,101.33 L412.64,102.89 L413.00,104.91 L413.36,107.39 L413.73,110.31 L414.09,113.67 L414.46,117.46 L414.82,121.67 L415.19,126.30 L415.55,131.33 L415.91,136.74 L416.28,142.53 L416.64,148.67 L417.01,155.16 L417.37,161.98 L417.74,169.11 L418.10,176.53 L418.46,184.22 L418.83,192.17 L419.19,200.36 L419.56,208.76 L419.92,217.35 L420.29,226.11 L420.65,235.03 L421.01,244.07 L421.38,253.21 L421.74,262.44 L422.11,271.73 L422.47,281.06 L422.84,290.39 L423.20,299.72 L423.56,309.01 L423.93,318.24 L424.29,327.40 L424.66,336.45 L425.02,345.37 L425.39,354.15 L425.75,362.75 L426.11,371.17 L426.48,379.37 L426.84,387.33 L427.21,395.05 L427.57,402.49 L427.94,409.64 L428.30,416.49 L428.66,423.00 L429.03,429.18 L429.39,435.00 L429.76,440.44 L430.12,445.50 L430.49,450.16 L430.85,454.42 L431.21,458.25 L431.58,461.65 L431.94,464.61 L432.31,467.13 L432.67,469.19 L433.04,470.80 L433.40,471.95 L433.76,472.63 L434.13,472.85 L434.49,472.60 L434.86,471.89 L435.22,470.71 L435.59,469.07 L435.95,466.98 L436.31,464.43 L436.68,461.44 L437.04,458.01 L437.41,454.16 L437.77,449.88 L438.14,445.20 L438.50,440.12 L438.86,434.66 L439.23,428.82 L439.59,422.63 L439.96,416.11 L440.32,409.25 L440.69,402.09 L441.05,394.65 L441.41,386.93 L441.78,378.96 L442.14,370.77 L442.51,362.36 L442.87,353.76 L443.24,345.00 L443.60,336.09 L443.97,327.06 L444.33,317.92 L444.69,308.71 L445.06,299.45 L445.42,290.15 L445.79,280.85 L446.15,271.56 L446.52,262.30 L446.88,253.11 L447.24,244.01 L447.61,235.01 L447.97,226.14 L448.34,217.42 L448.70,208.88 L449.07,200.53 L449.43,192.39 L449.79,184.49 L450.16,176.85 L450.52,169.48 L450.89,162.41 L451.25,155.65 L451.62,149.21 L451.98,143.12 L452.34,137.39 L452.71,132.03 L453.07,127.06 L453.44,122.48 L453.80,118.32 L454.17,114.58 L454.53,111.26 L454.89,108.39 L455.26,105.96 L455.62,103.98 L455.99,102.46 L456.35,101.40 L456.72,100.81 L457.08,100.67 L457.44,101.00 L457.81,101.80 L458.17,103.06 L458.54,104.77 L458.90,106.94 L459.27,109.56 L459.63,112.62 L459.99,116.11 L460.36,120.03 L460.72,124.37 L461.09,129.11 L461.45,134.24 L461.82,139.75 L462.18,145.63 L462.54,151.86 L462.91,158.43 L463.27,165.31 L463.64,172.50 L464.00,179.97 L464.37,187.71 L464.73,195.69 L465.09,203.90 L465.46,212.32 L465.82,220.92 L466.19,229.68 L466.55,238.59 L466.92,247.61 L467.28,256.73 L467.64,265.92 L468.01,275.16 L468.37,284.43 L468.74,293.70 L469.10,302.96 L469.47,312.17 L469.83,321.32 L470.19,330.38 L470.56,339.33 L470.92,348.14 L471.29,356.80 L471.65,365.28 L472.02,373.57 L472.38,381.64 L472.74,389.46 L473.11,397.03 L473.47,404.32 L473.84,411.32 L474.20,418.00 L474.57,424.36 L474.93,430.37 L475.29,436.01 L475.66,441.29 L476.02,446.17 L476.39,450.66 L476.75,454.73 L477.12,458.39 L477.48,461.61 L477.84,464.39 L478.21,466.73 L478.57,468.62 L478.94,470.06 L479.30,471.03 L479.67,471.54 L480.03,471.59 L480.40,471.18 L480.76,470.30 L481.12,468.97 L481.49,467.18 L481.85,464.93 L482.22,462.25 L482.58,459.12 L482.95,455.56 L483.31,451.58 L483.67,447.18 L484.04,442.39 L484.40,437.20 L484.77,431.64 L485.13,425.72 L485.50,419.44 L485.86,412.84 L486.22,405.92 L486.59,398.70 L486.95,391.21 L487.32,383.45 L487.68,375.45 L488.05,367.23 L488.41,358.81 L488.77,350.20 L489.14,341.44 L489.50,332.55 L489.87,323.53 L490.23,314.43 L490.60,305.26 L490.96,296.04 L491.32,286.80 L491.69,277.56 L492.05,268.34 L492.42,259.17 L492.78,250.06 L493.15,241.05 L493.51,232.15 L493.87,223.39 L494.24,214.79 L494.60,206.37 L494.97,198.15 L495.33,190.15 L495.70,182.40 L496.06,174.90 L496.42,167.68 L496.79,160.77 L497.15,154.16 L497.52,147.89 L497.88,141.96 L498.25,136.40 L498.61,131.21 L498.97,126.41 L499.34,122.02 L499.70,118.03 L500.07,114.47 L500.43,111.33 L500.80,108.63 L501.16,106.38 L501.52,104.58 L501.89,103.23 L502.25,102.35 L502.62,101.92 L502.98,101.95 L503.35,102.45 L503.71,103.40 L504.07,104.82 L504.44,106.68 L504.80,109.00 L505.17,111.76 L505.53,114.95 L505.90,118.58 L506.26,122.62 L506.62,127.07 L506.99,131.93 L507.35,137.16 L507.72,142.77 L508.08,148.74 L508.45,155.05 L508.81,161.69 L509.17,168.64 L509.54,175.89 L509.90,183.41 L510.27,191.19 L510.63,199.20 L511.00,207.43 L511.36,215.86 L511.72,224.47 L512.09,233.22 L512.45,242.11 L512.82,251.11 L513.18,260.20 L513.55,269.36 L513.91,278.55 L514.27,287.76 L514.64,296.97 L515.00,306.15 L515.37,315.29 L515.73,324.34 L516.10,333.31 L516.46,342.15 L516.83,350.86 L517.19,359.40 L517.55,367.76 L517.92,375.91 L518.28,383.84 L518.65,391.53 L519.01,398.95 L519.38,406.09 L519.74,412.93 L520.10,419.46 L520.47,425.65 L520.83,431.49 L521.20,436.97 L521.56,442.07 L521.93,446.78 L522.29,451.09 L522.65,454.99 L523.02,458.47 L523.38,461.52 L523.75,464.12 L524.11,466.29 L524.48,468.00 L524.84,469.26 L525.20,470.06 L525.57,470.41 L525.93,470.29 L526.30,469.71 L526.66,468.68 L527.03,467.19 L527.39,465.25 L527.75,462.86 L528.12,460.03 L528.48,456.77 L528.85,453.08 L529.21,448.98 L529.58,444.46 L529.94,439.56 L530.30,434.27 L530.67,428.61 L531.03,422.60 L531.40,416.25 L531.76,409.58 L532.13,402.59 L532.49,395.32 L532.85,387.78 L533.22,379.98 L533.58,371.95 L533.95,363.71 L534.31,355.28 L534.68,346.67 L535.04,337.92 L535.40,329.03 L535.77,320.04 L536.13,310.97 L536.50,301.84 L536.86,292.67 L537.23,283.49 L537.59,274.31 L537.95,265.17 L538.32,256.08 L538.68,247.06 L539.05,238.15 L539.41,229.36 L539.78,220.71 L540.14,212.22 L540.50,203.93 L540.87,195.84 L541.23,187.97 L541.60,180.36 L541.96,173.01 L542.33,165.95 L542.69,159.18 L543.05,152.74 L543.42,146.63 L543.78,140.87 L544.15,135.48 L544.51,130.46 L544.88,125.83 L545.24,121.61 L545.60,117.80 L545.97,114.41 L546.33,111.45 L546.70,108.93 L547.06,106.86 L547.43,105.23 L547.79,104.05 L548.15,103.34 L548.52,103.08 L548.88,103.28 L549.25,103.93 L549.61,105.05 L549.98,106.61 L550.34,108.63 L550.70,111.09 L551.07,113.99 L551.43,117.32 L551.80,121.07 L552.16,125.23 L552.53,129.80 L552.89,134.76 L553.26,140.10 L553.62,145.80 L553.98,151.85 L554.35,158.24 L554.71,164.95 L555.08,171.97 L555.44,179.27 L555.81,186.83 L556.17,194.65 L556.53,202.69 L556.90,210.94 L557.26,219.38 L557.63,227.98 L557.99,236.74 L558.36,245.61 L558.72,254.59 L559.08,263.64 L559.45,272.75 L559.81,281.90 L560.18,291.05 L560.54,300.19 L560.91,309.30 L561.27,318.35 L561.63,327.32 L562.00,336.18 L562.36,344.92 L562.73,353.51 L563.09,361.94 L563.46,370.17 L563.82,378.20 L564.18,385.99 L564.55,393.54 L564.91,400.81 L565.28,407.80 L565.64,414.49 L566.01,420.85 L566.37,426.88 L566.73,432.55 L567.10,437.86 L567.46,442.79 L567.83,447.33 L568.19,451.47 L568.56,455.19 L568.92,458.49 L569.28,461.37 L569.65,463.80 L570.01,465.79 L570.38,467.33 L570.74,468.42 L571.11,469.05 L571.47,469.23 L571.83,468.95 L572.20,468.21 L572.56,467.02 L572.93,465.38 L573.29,463.29 L573.66,460.76 L574.02,457.79 L574.38,454.39 L574.75,450.58 L575.11,446.36 L575.48,441.73 L575.84,436.72 L576.21,431.33 L576.57,425.58 L576.93,419.49 L577.30,413.06 L577.66,406.32 L578.03,399.27 L578.39,391.95 L578.76,384.36 L579.12,376.53 L579.48,368.47 L579.85,360.21 L580.21,351.77 L580.58,343.17 L580.94,334.42 L581.31,325.55 L581.67,316.59 L582.03,307.55 L582.40,298.46 L582.76,289.35 L583.13,280.22 L583.49,271.11 L583.86,262.04 L584.22,253.04 L584.58,244.12 L584.95,235.30 L585.31,226.61 L585.68,218.08 L586.04,209.71 L586.41,201.54 L586.77,193.58 L587.13,185.86 L587.50,178.38 L587.86,171.18 L588.23,164.27 L588.59,157.66 L588.96,151.38 L589.32,145.43 L589.69,139.84 L590.05,134.61 L590.41,129.77 L590.78,125.31 L591.14,121.26 L591.51,117.63 L591.87,114.41 L592.24,111.63 L592.60,109.28 L592.96,107.38 L593.33,105.93 L593.69,104.92 L594.06,104.37 L594.42,104.28 L594.79,104.64 L595.15,105.46 L595.51,106.72 L595.88,108.44 L596.24,110.60 L596.61,113.21 L596.97,116.24 L597.34,119.70 L597.70,123.58 L598.06,127.86 L598.43,132.54 L598.79,137.60 L599.16,143.04 L599.52,148.83 L599.89,154.97 L600.25,161.44 L600.61,168.21 L600.98,175.28 L601.34,182.63 L601.71,190.24 L602.07,198.09 L602.44,206.16 L602.80,214.43 L603.16,222.87 L603.53,231.48 L603.89,240.22 L604.26,249.08 L604.62,258.02 L604.99,267.04 L605.35,276.11 L605.71,285.20 L606.08,294.30 L606.44,303.37 L606.81,312.40 L607.17,321.36 L607.54,330.24 L607.90,339.01 L608.26,347.64 L608.63,356.12 L608.99,364.42 L609.36,372.53 L609.72,380.42 L610.09,388.08 L610.45,395.48 L610.81,402.61 L611.18,409.45 L611.54,415.98 L611.91,422.18 L612.27,428.05 L612.64,433.56 L613.00,438.70 L613.36,443.46 L613.73,447.82 L614.09,451.79 L614.46,455.34 L614.82,458.46 L615.19,461.16 L615.55,463.42 L615.91,465.24 L616.28,466.61 L616.64,467.53 L617.01,467.99 L617.37,468.00 L617.74,467.56 L618.10,466.67 L618.46,465.32 L618.83,463.53 L619.19,461.30 L619.56,458.62 L619.92,455.52 L620.29,452.00 L620.65,448.06 L621.01,443.72 L621.38,438.98 L621.74,433.87 L622.11,428.38 L622.47,422.55 L622.84,416.37 L623.20,409.87 L623.56,403.06 L623.93,395.96 L624.29,388.59 L624.66,380.96 L625.02,373.09 L625.39,365.01 L625.75,356.74 L626.12,348.29 L626.48,339.69 L626.84,330.95 L627.21,322.10 L627.57,313.17 L627.94,304.17 L628.30,295.13 L628.67,286.06 L629.03,277.00 L629.39,267.96 L629.76,258.97 L630.12,250.05 L630.49,241.22 L630.85,232.50 L631.22,223.92 L631.58,215.50 L631.94,207.26 L632.31,199.21 L632.67,191.39 L633.04,183.80 L633.40,176.47 L633.77,169.41 L634.13,162.65 L634.49,156.20 L634.86,150.08 L635.22,144.29 L635.59,138.87 L635.95,133.81 L636.32,129.13 L636.68,124.85 L637.04,120.97 L637.41,117.51 L637.77,114.47 L638.14,111.86 L638.50,109.69 L638.87,107.96 L639.23,106.67 L639.59,105.84 L639.96,105.45 L640.32,105.52 L640.69,106.05 L641.05,107.02 L641.42,108.44 L641.78,110.31 L642.14,112.61 L642.51,115.35 L642.87,118.52 L643.24,122.11 L643.60,126.11 L643.97,130.51 L644.33,135.30 L644.69,140.46 L645.06,145.99 L645.42,151.87 L645.79,158.09 L646.15,164.63 L646.52,171.47 L646.88,178.60 L647.24,185.99 L647.61,193.64 L647.97,201.52 L648.34,209.61 L648.70,217.89 L649.07,226.34 L649.43,234.94 L649.79,243.67 L650.16,252.51 L650.52,261.43 L650.89,270.41 L651.25,279.43 L651.62,288.47 L651.98,297.50 L652.34,306.50 L652.71,315.45 L653.07,324.33 L653.44,333.11 L653.80,341.77 L654.17,350.30 L654.53,358.67 L654.89,366.85 L655.26,374.83 L655.62,382.59 L655.99,390.11 L656.35,397.37 L656.72,404.35 L657.08,411.03 L657.44,417.41 L657.81,423.45 L658.17,429.15 L658.54,434.50 L658.90,439.47 L659.27,444.06 L659.63,448.26 L659.99,452.05 L660.36,455.43 L660.72,458.38 L661.09,460.90 L661.45,462.99 L661.82,464.64 L662.18,465.84 L662.55,466.59 L662.91,466.89 L663.27,466.74 L663.64,466.14 L664.00,465.09 L664.37,463.59 L664.73,461.65 L665.10,459.27 L665.46,456.46 L665.82,453.23 L666.19,449.58 L666.55,445.52 L666.92,441.06 L667.28,436.22 L667.65,431.01 L668.01,425.43 L668.37,419.51 L668.74,413.25 L669.10,406.68 L669.47,399.81 L669.83,392.65 L670.20,385.23 L670.56,377.57 L670.92,369.67 L671.29,361.57 L671.65,353.29 L672.02,344.83 L672.38,336.23 L672.75,327.51 L673.11,318.69 L673.47,309.78 L673.84,300.82 L674.20,291.83 L674.57,282.82 L674.93,273.82 L675.30,264.85 L675.66,255.94 L676.02,247.11 L676.39,238.37 L676.75,229.76 L677.12,221.29 L677.48,212.98 L677.85,204.86 L678.21,196.94 L678.57,189.25 L678.94,181.80 L679.30,174.61 L679.67,167.71 L680.03,161.10 L680.40,154.80 L680.76,148.84 L681.12,143.22 L681.49,137.95 L681.85,133.06 L682.22,128.56 L682.58,124.45 L682.95,120.74 L683.31,117.45 L683.67,114.58 L684.04,112.15 L684.40,110.14 L684.77,108.58 L685.13,107.47 L685.50,106.80 L685.86,106.58 L686.22,106.81 L686.59,107.49 L686.95,108.62 L687.32,110.19 L687.68,112.20 L688.05,114.65 L688.41,117.53 L688.77,120.83 L689.14,124.54 L689.50,128.66 L689.87,133.17 L690.23,138.06 L690.60,143.33 L690.96,148.95 L691.32,154.92 L691.69,161.21 L692.05,167.82 L692.42,174.72 L692.78,181.90 L693.15,189.34 L693.51,197.03 L693.87,204.93 L694.24,213.04 L694.60,221.33 L694.97,229.79 L695.33,238.38 L695.70,247.10 L696.06,255.91 L696.42,264.79 L696.79,273.74 L697.15,282.71 L697.52,291.69 L697.88,300.65 L698.25,309.58 L698.61,318.45 L698.98,327.24 L699.34,335.93 L699.70,344.49 L700.07,352.91 L700.43,361.16 L700.80,369.22 L701.16,377.07 L701.53,384.70 L701.89,392.08 L702.25,399.19 L702.62,406.03 L702.98,412.56 L703.35,418.78 L703.71,424.66 L704.08,430.20 L704.44,435.38 L704.80,440.19 L705.17,444.61 L705.53,448.63 L705.90,452.25 L706.26,455.46 L706.63,458.24 L706.99,460.59 L707.35,462.51 L707.72,463.98 L708.08,465.02 L708.45,465.60 L708.81,465.74 L709.18,465.43 L709.54,464.67 L709.90,463.47 L710.27,461.82 L710.63,459.74 L711.00,457.22 L711.36,454.27 L711.73,450.91 L712.09,447.14 L712.45,442.96 L712.82,438.39 L713.18,433.45 L713.55,428.13 L713.91,422.47 L714.28,416.46 L714.64,410.13 L715.00,403.49 L715.37,396.56 L715.73,389.35 L716.10,381.89 L716.46,374.19 L716.83,366.27 L717.19,358.15 L717.55,349.85 L717.92,341.40 L718.28,332.81 L718.65,324.10 L719.01,315.30 L719.38,306.43 L719.74,297.52 L720.10,288.57 L720.47,279.62 L720.83,270.69 L721.20,261.79 L721.56,252.96 L721.93,244.22 L722.29,235.58 L722.65,227.07 L723.02,218.71 L723.38,210.52 L723.75,202.52 L724.11,194.73 L724.48,187.17 L724.84,179.86 L725.20,172.82 L725.57,166.06 L725.93,159.60 L726.30,153.46 L726.66,147.66 L727.03,142.20 L727.39,137.10 L727.75,132.38 L728.12,128.04 L728.48,124.10 L728.85,120.57 L729.21,117.45 L729.58,114.75 L729.94,112.48 L730.30,110.65 L730.67,109.26 L731.03,108.31 L731.40,107.81 L731.76,107.75 L732.13,108.14 L732.49,108.98 L732.85,110.26 L733.22,111.98 L733.58,114.13 L733.95,116.72 L734.31,119.73 L734.68,123.16 L735.04,126.99 L735.41,131.23 L735.77,135.85 L736.13,140.85 L736.50,146.21 L736.86,151.92 L737.23,157.96 L737.59,164.33 L737.96,171.00 L738.32,177.96 L738.68,185.20 L739.05,192.68 L739.41,200.40 L739.78,208.33 L740.14,216.45 L740.51,224.75 L740.87,233.21 L741.23,241.79 L741.60,250.49 L741.96,259.27 L742.33,268.13 L742.69,277.02 L743.06,285.94 L743.42,294.86 L743.78,303.76 L744.15,312.62 L744.51,321.41 L744.88,330.11 L745.24,338.70 L745.61,347.15 L745.97,355.46 L746.33,363.59 L746.70,371.53 L747.06,379.26 L747.43,386.75 L747.79,393.99 L748.16,400.96 L748.52,407.64 L748.88,414.02 L749.25,420.09 L749.61,425.81 L749.98,431.19 L750.34,436.20 L750.71,440.84 L751.07,445.10 L751.43,448.95 L751.80,452.40 L752.16,455.44 L752.53,458.05 L752.89,460.23 L753.26,461.98 L753.62,463.28 L753.98,464.15 L754.35,464.57 L754.71,464.55 L755.08,464.08 L755.44,463.17 L755.81,461.81 L756.17,460.02 L756.53,457.79 L756.90,455.14 L757.26,452.06 L757.63,448.57 L757.99,444.67 L758.36,440.38 L758.72,435.71 L759.08,430.66 L759.45,425.25 L759.81,419.50 L760.18,413.41 L760.54,407.01 L760.91,400.30 L761.27,393.31 L761.63,386.06 L762.00,378.56 L762.36,370.82 L762.73,362.88 L763.09,354.75 L763.46,346.45 L763.82,337.99 L764.18,329.41 L764.55,320.73 L764.91,311.96 L765.28,303.12 L765.64,294.25 L766.01,285.35 L766.37,276.46 L766.73,267.60 L767.10,258.78 L767.46,250.04 L767.83,241.38 L768.19,232.84 L768.56,224.43 L768.92,216.18 L769.28,208.11 L769.65,200.23 L770.01,192.57 L770.38,185.15 L770.74,177.98 L771.11,171.08 L771.47,164.47 L771.84,158.17 L772.20,152.18 L772.56,146.54 L772.93,141.24 L773.29,136.31 L773.66,131.75 L774.02,127.58 L774.39,123.81 L774.75,120.45 L775.11,117.50 L775.48,114.97 L775.84,112.87 L776.21,111.21 L776.57,109.98 L776.94,109.20 L777.30,108.86 L777.66,108.96 L778.03,109.51 L778.39,110.50 L778.76,111.93 L779.12,113.80 L779.49,116.09 L779.85,118.82 L780.21,121.96 L780.58,125.51 L780.94,129.47 L781.31,133.81 L781.67,138.54 L782.04,143.64 L782.40,149.09 L782.76,154.89 L783.13,161.02 L783.49,167.45 L783.86,174.19 L784.22,181.20 L784.59,188.48 L784.95,196.00 L785.31,203.75 L785.68,211.70 L786.04,219.84 L786.41,228.15 L786.77,236.60 L787.14,245.17 L787.50,253.85" fill="none" stroke="#ff0000" stroke-width="4" stroke-linejoin="round"/>
<g stroke="#000" stroke-width="1.35" fill="none"><line x1="43.8" y1="483.2" x2="802.7" y2="483.2" stroke-width="1.25"/><line x1="58.9" y1="37.6" x2="58.9" y2="506.7"/><line x1="95.33" y1="483.2" x2="95.33" y2="478.1" stroke-width="1.2"/><line x1="131.76" y1="483.2" x2="131.76" y2="478.1" stroke-width="1.2"/><line x1="168.19" y1="483.2" x2="168.19" y2="478.1" stroke-width="1.2"/><line x1="204.62" y1="483.2" x2="204.62" y2="474"/><line x1="241.05" y1="483.2" x2="241.05" y2="478.1" stroke-width="1.2"/><line x1="277.48" y1="483.2" x2="277.48" y2="478.1" stroke-width="1.2"/><line x1="313.91" y1="483.2" x2="313.91" y2="478.1" stroke-width="1.2"/><line x1="350.34" y1="483.2" x2="350.34" y2="474"/><line x1="386.77" y1="483.2" x2="386.77" y2="478.1" stroke-width="1.2"/><line x1="423.20" y1="483.2" x2="423.20" y2="478.1" stroke-width="1.2"/><line x1="459.63" y1="483.2" x2="459.63" y2="478.1" stroke-width="1.2"/><line x1="496.06" y1="483.2" x2="496.06" y2="474"/><line x1="532.49" y1="483.2" x2="532.49" y2="478.1" stroke-width="1.2"/><line x1="568.92" y1="483.2" x2="568.92" y2="478.1" stroke-width="1.2"/><line x1="605.35" y1="483.2" x2="605.35" y2="478.1" stroke-width="1.2"/><line x1="641.78" y1="483.2" x2="641.78" y2="474"/><line x1="678.21" y1="483.2" x2="678.21" y2="478.1" stroke-width="1.2"/><line x1="714.64" y1="483.2" x2="714.64" y2="478.1" stroke-width="1.2"/><line x1="751.07" y1="483.2" x2="751.07" y2="478.1" stroke-width="1.2"/><line x1="787.50" y1="483.2" x2="787.50" y2="474"/><line x1="58.9" y1="499.28" x2="64.3" y2="499.28" stroke-width="1.2"/><line x1="58.9" y1="481.55" x2="64.3" y2="481.55" stroke-width="1.2"/><line x1="58.9" y1="463.81" x2="68" y2="463.81"/><line x1="58.9" y1="446.07" x2="64.3" y2="446.07" stroke-width="1.2"/><line x1="58.9" y1="428.34" x2="64.3" y2="428.34" stroke-width="1.2"/><line x1="58.9" y1="410.60" x2="64.3" y2="410.60" stroke-width="1.2"/><line x1="58.9" y1="392.87" x2="64.3" y2="392.87" stroke-width="1.2"/><line x1="58.9" y1="375.13" x2="68" y2="375.13"/><line x1="58.9" y1="357.39" x2="64.3" y2="357.39" stroke-width="1.2"/><line x1="58.9" y1="339.66" x2="64.3" y2="339.66" stroke-width="1.2"/><line x1="58.9" y1="321.92" x2="64.3" y2="321.92" stroke-width="1.2"/><line x1="58.9" y1="304.19" x2="64.3" y2="304.19" stroke-width="1.2"/><line x1="58.9" y1="286.45" x2="68" y2="286.45"/><line x1="58.9" y1="268.71" x2="64.3" y2="268.71" stroke-width="1.2"/><line x1="58.9" y1="250.98" x2="64.3" y2="250.98" stroke-width="1.2"/><line x1="58.9" y1="233.24" x2="64.3" y2="233.24" stroke-width="1.2"/><line x1="58.9" y1="215.51" x2="64.3" y2="215.51" stroke-width="1.2"/><line x1="58.9" y1="197.77" x2="68" y2="197.77"/><line x1="58.9" y1="180.03" x2="64.3" y2="180.03" stroke-width="1.2"/><line x1="58.9" y1="162.30" x2="64.3" y2="162.30" stroke-width="1.2"/><line x1="58.9" y1="144.56" x2="64.3" y2="144.56" stroke-width="1.2"/><line x1="58.9" y1="126.83" x2="64.3" y2="126.83" stroke-width="1.2"/><line x1="58.9" y1="109.09" x2="68" y2="109.09"/><line x1="58.9" y1="91.35" x2="64.3" y2="91.35" stroke-width="1.2"/><line x1="58.9" y1="73.62" x2="64.3" y2="73.62" stroke-width="1.2"/><line x1="58.9" y1="55.88" x2="64.3" y2="55.88" stroke-width="1.2"/><line x1="58.9" y1="38.15" x2="64.3" y2="38.15" stroke-width="1.2"/></g>
<text transform="translate(52.20 116.09) scale(0.985 1.04)" text-anchor="end">1.002</text>
<text transform="translate(52.20 204.77) scale(0.985 1.04)" text-anchor="end">1.001</text>
<text transform="translate(52.20 293.45) scale(0.985 1.04)" text-anchor="end">1.000</text>
<text transform="translate(52.20 382.13) scale(0.985 1.04)" text-anchor="end">0.999</text>
<text transform="translate(52.20 470.81) scale(0.985 1.04)" text-anchor="end">0.998</text>
<text transform="translate(204.42 508.90) scale(0.985 1.04)" text-anchor="middle">920</text>
<text transform="translate(350.14 508.90) scale(0.985 1.04)" text-anchor="middle">940</text>
<text transform="translate(495.86 508.90) scale(0.985 1.04)" text-anchor="middle">960</text>
<text transform="translate(641.58 508.90) scale(0.985 1.04)" text-anchor="middle">980</text>
<text transform="translate(787.50 508.90) scale(0.965 1.04)" text-anchor="middle">1000</text>
<text transform="translate(28.50 18.70) scale(0.985 1.04)" text-anchor="start">72 <tspan font-style="italic" font-size="19.6" letter-spacing="0.6" dx="-0.8">πτ</tspan><tspan dx="0.6">y</tspan></text>
<text transform="translate(822.70 490.80) scale(1.03 1.04)" text-anchor="start" font-style="italic" font-size="18.8">τ</text>
</svg></body></html>
